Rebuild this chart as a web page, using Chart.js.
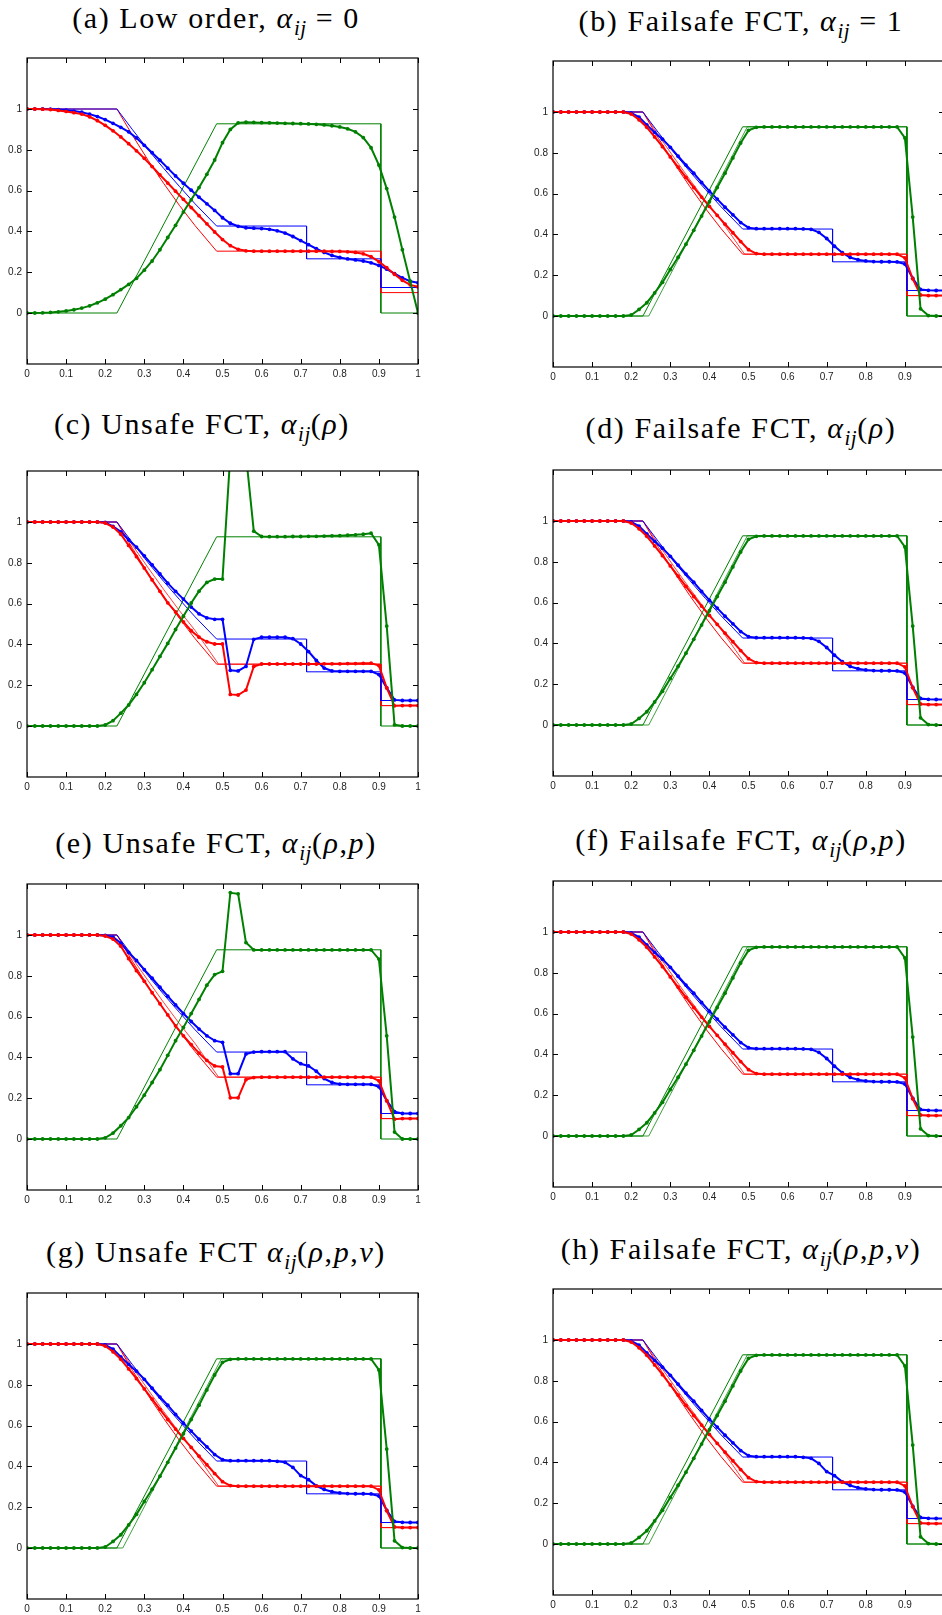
<!DOCTYPE html>
<html>
<head>
<meta charset="utf-8">
<script src="https://cdn.jsdelivr.net/npm/chart.js@4"></script>
<style>
html, body { margin: 0; padding: 0; background: #fff; }
body { width: 942px; height: 1615px; overflow: hidden; position: relative; }
canvas { position: absolute; }
.ttl { position: absolute; transform: translate(-50%, -50%); white-space: nowrap;
  font-family: "Liberation Serif", "DejaVu Serif", serif; font-size: 30px; letter-spacing: 1.6px; color: #000; }
.ttl sub { font-size: 0.7em; vertical-align: -0.32em; line-height: 0; letter-spacing: 0.5px; }
</style>
</head>
<body>
<script>
// grid of the numerical solution
var xGrid = [0,0.02,0.04,0.06,0.08,0.1,0.12,0.14,0.16,0.18,0.2,0.22,0.24,0.26,0.28,0.3,0.32,0.34,0.36,0.38,0.4,0.42,0.44,0.46,0.48,0.5,0.52,0.54,0.56,0.58,0.6,0.62,0.64,0.66,0.68,0.7,0.72,0.74,0.76,0.78,0.8,0.82,0.84,0.86,0.88,0.9,0.92,0.94,0.96,0.98,1];
var xTicks = [0,0.1,0.2,0.3,0.4,0.5,0.6,0.7,0.8,0.9,1];
var yTicks = [0,0.2,0.4,0.6,0.8,1];

// exact solution
var exRhoX = [0,0.23,0.27,0.31,0.35,0.39,0.43,0.485,0.715,0.715,0.905,0.905,1];
var exRho  = [1,1,0.898,0.80,0.708,0.62,0.535,0.4263,0.4263,0.2656,0.2656,0.125,0.125];
var exPX   = [0,0.23,0.27,0.31,0.35,0.39,0.43,0.485,0.905,0.905,1];
var exP    = [1,1,0.87,0.748,0.634,0.527,0.428,0.3031,0.3031,0.1,0.1];
var exUX   = [0,0.23,0.485,0.905,0.905,1];
var exU    = [0,0,0.9274,0.9274,0,0];
// second reference curve
var refPX  = [0,0.23,0.27,0.31,0.35,0.39,0.43,0.49,0.905,0.905,1];
var refP   = [1,1,0.885,0.775,0.668,0.565,0.468,0.3031,0.3031,0.1,0.1];
var refUX  = [0,0.245,0.497,0.905,0.905,1];
var refU   = [0,0,0.9274,0.9274,0,0];

// (a) low order
var rhoLow = [1,1,1,0.999,0.997,0.994,0.99,0.984,0.975,0.963,0.948,0.93,0.91,0.888,0.858,0.822,0.786,0.749,0.71,0.672,0.636,0.602,0.568,0.535,0.503,0.467,0.44,0.425,0.418,0.416,0.414,0.41,0.403,0.392,0.375,0.355,0.335,0.315,0.297,0.282,0.272,0.265,0.26,0.255,0.246,0.233,0.215,0.193,0.172,0.156,0.148];
var pLow = [1,1,0.999,0.997,0.993,0.988,0.982,0.975,0.962,0.943,0.92,0.893,0.863,0.83,0.795,0.758,0.718,0.677,0.637,0.597,0.557,0.517,0.477,0.437,0.397,0.36,0.33,0.312,0.305,0.303,0.303,0.303,0.303,0.303,0.303,0.303,0.303,0.303,0.303,0.302,0.302,0.3,0.297,0.29,0.276,0.252,0.222,0.19,0.16,0.138,0.128];
var uLow = [0,0,0.001,0.003,0.006,0.01,0.016,0.024,0.035,0.05,0.068,0.09,0.115,0.14,0.17,0.21,0.255,0.31,0.37,0.43,0.495,0.555,0.615,0.68,0.75,0.835,0.9,0.932,0.935,0.934,0.933,0.932,0.931,0.93,0.929,0.928,0.927,0.925,0.922,0.918,0.912,0.903,0.888,0.86,0.81,0.725,0.61,0.47,0.31,0.155,0];

// failsafe FCT (b, d, f)
var rhoFs = [1,1,1,1,1,1,1,1,1,1,0.995,0.975,0.937,0.9,0.867,0.827,0.783,0.74,0.7,0.655,0.612,0.573,0.533,0.496,0.458,0.433,0.428,0.428,0.428,0.428,0.428,0.428,0.427,0.425,0.41,0.38,0.342,0.31,0.287,0.276,0.27,0.267,0.266,0.266,0.265,0.255,0.185,0.13,0.126,0.125,0.125];
var pFs = [1,1,1,1,1,1,1,1,1,1,0.99,0.962,0.925,0.878,0.83,0.78,0.73,0.68,0.63,0.583,0.537,0.493,0.45,0.408,0.365,0.325,0.306,0.303,0.303,0.303,0.303,0.303,0.303,0.303,0.303,0.303,0.303,0.303,0.303,0.303,0.303,0.303,0.303,0.303,0.303,0.285,0.182,0.103,0.1,0.1,0.1];
var uFs = [0,0,0,0,0,0,0,0,0,0,0.005,0.032,0.065,0.113,0.165,0.228,0.288,0.352,0.42,0.49,0.56,0.63,0.7,0.775,0.848,0.91,0.925,0.927,0.927,0.927,0.927,0.927,0.927,0.927,0.927,0.927,0.927,0.927,0.927,0.927,0.927,0.927,0.927,0.927,0.927,0.873,0.485,0.035,0.002,0,0];
// density for (g), (h)
var rhoPv = [1,1,1,1,1,1,1,1,1,1,0.995,0.975,0.937,0.9,0.867,0.827,0.783,0.74,0.7,0.655,0.612,0.573,0.533,0.496,0.458,0.433,0.428,0.428,0.428,0.428,0.428,0.428,0.425,0.42,0.395,0.355,0.335,0.305,0.287,0.276,0.27,0.267,0.266,0.266,0.265,0.255,0.185,0.13,0.126,0.125,0.125];

// (c) unsafe FCT, alpha(rho)
var rhoC = [1,1,1,1,1,1,1,1,1,1,0.998,0.979,0.952,0.912,0.877,0.834,0.79,0.745,0.7,0.66,0.622,0.583,0.55,0.53,0.523,0.523,0.273,0.27,0.292,0.425,0.435,0.435,0.435,0.435,0.428,0.402,0.365,0.321,0.284,0.27,0.268,0.268,0.268,0.268,0.268,0.252,0.187,0.128,0.125,0.125,0.125];
var pC = [1,1,1,1,1,1,1,1,1,1,0.995,0.975,0.94,0.885,0.83,0.774,0.716,0.66,0.604,0.559,0.51,0.467,0.435,0.413,0.402,0.402,0.155,0.152,0.176,0.292,0.304,0.304,0.304,0.304,0.304,0.304,0.304,0.304,0.305,0.305,0.305,0.306,0.306,0.307,0.308,0.296,0.187,0.099,0.1,0.1,0.1];
var uC = [0,0,0,0,0,0,0,0,0,0,0.005,0.026,0.063,0.103,0.155,0.212,0.276,0.341,0.405,0.473,0.538,0.603,0.661,0.704,0.72,0.72,1.33,1.4,1.33,0.955,0.929,0.928,0.928,0.928,0.929,0.929,0.93,0.93,0.931,0.932,0.933,0.935,0.937,0.94,0.945,0.888,0.49,0.006,0,0,0];

// (e) unsafe FCT, alpha(rho, p)
var rhoE = [1,1,1,1,1,1,1,1,1,1,0.998,0.99,0.96,0.915,0.875,0.83,0.788,0.744,0.7,0.657,0.615,0.576,0.539,0.506,0.482,0.474,0.32,0.32,0.417,0.426,0.428,0.428,0.428,0.428,0.393,0.369,0.358,0.332,0.296,0.277,0.269,0.268,0.268,0.268,0.268,0.256,0.188,0.134,0.125,0.125,0.125];
var pE = [1,1,1,1,1,1,1,1,1,1,0.995,0.98,0.945,0.884,0.825,0.773,0.717,0.663,0.608,0.555,0.506,0.463,0.421,0.385,0.358,0.353,0.202,0.202,0.291,0.301,0.303,0.303,0.303,0.303,0.303,0.303,0.303,0.303,0.303,0.303,0.303,0.303,0.303,0.303,0.303,0.285,0.188,0.097,0.1,0.1,0.1];
var uE = [0,0,0,0,0,0,0,0,0,0,0.006,0.029,0.065,0.105,0.158,0.215,0.277,0.34,0.41,0.482,0.547,0.615,0.684,0.754,0.806,0.822,1.207,1.202,0.963,0.927,0.927,0.927,0.927,0.927,0.927,0.927,0.927,0.927,0.927,0.927,0.927,0.927,0.927,0.927,0.927,0.882,0.506,0.034,0,0,0];

var panels = [
  {title: '(a) Low order, <i>α</i><sub><i>ij</i></sub> = 0', left: 27.3, top: 55, tx: 216, ty: 18, rho: rhoLow, p: pLow, u: uLow, refP: false, refU: false},
  {title: '(b) Failsafe FCT, <i>α</i><sub><i>ij</i></sub> = 1', left: 553.3, top: 58.3, tx: 741, ty: 21, rho: rhoFs, p: pFs, u: uFs, refP: true, refU: true},
  {title: '(c) Unsafe FCT, <i>α</i><sub><i>ij</i></sub>(<i>ρ</i>)', left: 27.3, top: 468.3, tx: 202, ty: 424, rho: rhoC, p: pC, u: uC, refP: true, refU: false},
  {title: '(d) Failsafe FCT, <i>α</i><sub><i>ij</i></sub>(<i>ρ</i>)', left: 553.3, top: 467.3, tx: 741, ty: 428, rho: rhoFs, p: pFs, u: uFs, refP: true, refU: true},
  {title: '(e) Unsafe FCT, <i>α</i><sub><i>ij</i></sub>(<i>ρ</i>,<i>p</i>)', left: 27.3, top: 880.7, tx: 216, ty: 843, rho: rhoE, p: pE, u: uE, refP: true, refU: false},
  {title: '(f) Failsafe FCT, <i>α</i><sub><i>ij</i></sub>(<i>ρ</i>,<i>p</i>)', left: 553.3, top: 877.5, tx: 741, ty: 840, rho: rhoFs, p: pFs, u: uFs, refP: true, refU: true},
  {title: '(g) Unsafe FCT <i>α</i><sub><i>ij</i></sub>(<i>ρ</i>,<i>p</i>,<i>v</i>)', left: 27.3, top: 1290, tx: 216, ty: 1252, rho: rhoPv, p: pFs, u: uFs, refP: true, refU: true},
  {title: '(h) Failsafe FCT, <i>α</i><sub><i>ij</i></sub>(<i>ρ</i>,<i>p</i>,<i>v</i>)', left: 553.3, top: 1285.7, tx: 741, ty: 1249, rho: rhoPv, p: pFs, u: uFs, refP: true, refU: true}
];

var AXIS_W = 30, AXIS_H = 22, PAD_T = 8, PAD_R = 14, PLOT_W = 391, PLOT_H = 309;

function pts(xs, ys) {
  var out = [];
  for (var i = 0; i < xs.length; i++) out.push({x: xs[i], y: ys[i]});
  return out;
}

function thin(xs, ys, color) {
  return {data: pts(xs, ys), borderColor: color, borderWidth: 1, pointRadius: 0, order: 10};
}

function thick(ys, color, ord) {
  return {data: pts(xGrid, ys), borderColor: color, borderWidth: 2, pointRadius: 1.9,
    pointBorderWidth: 0, pointBackgroundColor: color, order: ord};
}

var framePlugin = {
  id: 'frame',
  afterDraw: function(chart) {
    var c = chart.ctx, a = chart.chartArea, sx = chart.scales.x, sy = chart.scales.y;
    c.save();
    c.strokeStyle = '#000';
    c.lineWidth = 1.2;
    c.strokeRect(a.left, a.top, a.right - a.left, a.bottom - a.top);
    c.lineWidth = 1;
    c.beginPath();
    xTicks.forEach(function(v) {
      var px = Math.round(sx.getPixelForValue(v)) + 0.5;
      c.moveTo(px, a.bottom); c.lineTo(px, a.bottom - 5);
      c.moveTo(px, a.top); c.lineTo(px, a.top + 5);
    });
    yTicks.forEach(function(v) {
      var py = Math.round(sy.getPixelForValue(v)) + 0.5;
      c.moveTo(a.left, py); c.lineTo(a.left + 5, py);
      c.moveTo(a.right, py); c.lineTo(a.right - 5, py);
    });
    c.stroke();
    c.restore();
  }
};

function buildPanel(pn) {
  var cv = document.createElement('canvas');
  var w = AXIS_W + PLOT_W + PAD_R, h = PAD_T + PLOT_H + AXIS_H;
  cv.width = w; cv.height = h;
  cv.style.width = w + 'px'; cv.style.height = h + 'px';
  cv.style.left = (pn.left - AXIS_W) + 'px';
  cv.style.top = (pn.top - PAD_T) + 'px';
  document.body.appendChild(cv);

  var t = document.createElement('div');
  t.className = 'ttl';
  t.innerHTML = pn.title;
  t.style.left = pn.tx + 'px';
  t.style.top = pn.ty + 'px';
  document.body.appendChild(t);

  var ds = [
    thin(exRhoX, exRho, '#0000ff'),
    thin(exPX, exP, '#ff0000'),
    thin(exUX, exU, '#008000')
  ];
  if (pn.refP) ds.push(thin(refPX, refP, 'rgba(255,0,0,0.75)'));
  if (pn.refU) ds.push(thin(refUX, refU, 'rgba(0,128,0,0.75)'));
  ds.push(thick(pn.rho, '#0000ff', 3));
  ds.push(thick(pn.p, '#ff0000', 2));
  ds.push(thick(pn.u, '#008000', 1));

  var tickFont = {family: 'Liberation Sans, Arial, sans-serif', size: 10};
  new Chart(cv, {
    type: 'line',
    data: {datasets: ds},
    options: {
      responsive: false,
      animation: false,
      devicePixelRatio: 1,
      layout: {padding: {left: 0, top: PAD_T, right: PAD_R, bottom: 0}},
      plugins: {legend: {display: false}, tooltip: {enabled: false}},
      elements: {line: {tension: 0}},
      scales: {
        x: {
          type: 'linear', min: 0, max: 1,
          grid: {display: false, drawTicks: false},
          border: {display: false},
          afterBuildTicks: function(s) { s.ticks = xTicks.map(function(v) { return {value: v}; }); },
          afterFit: function(s) { s.height = AXIS_H; },
          ticks: {font: tickFont, color: '#222', padding: 4, maxRotation: 0,
            callback: function(v) { return String(Math.round(v * 10) / 10); }}
        },
        y: {
          type: 'linear', min: -0.25, max: 1.25,
          grid: {display: false, drawTicks: false},
          border: {display: false},
          afterBuildTicks: function(s) { s.ticks = yTicks.map(function(v) { return {value: v}; }); },
          afterFit: function(s) { s.width = AXIS_W; },
          ticks: {font: tickFont, color: '#222', padding: 5,
            callback: function(v) { return String(Math.round(v * 10) / 10); }}
        }
      }
    },
    plugins: [framePlugin]
  });
}

panels.forEach(buildPanel);
</script>
</body>
</html>
